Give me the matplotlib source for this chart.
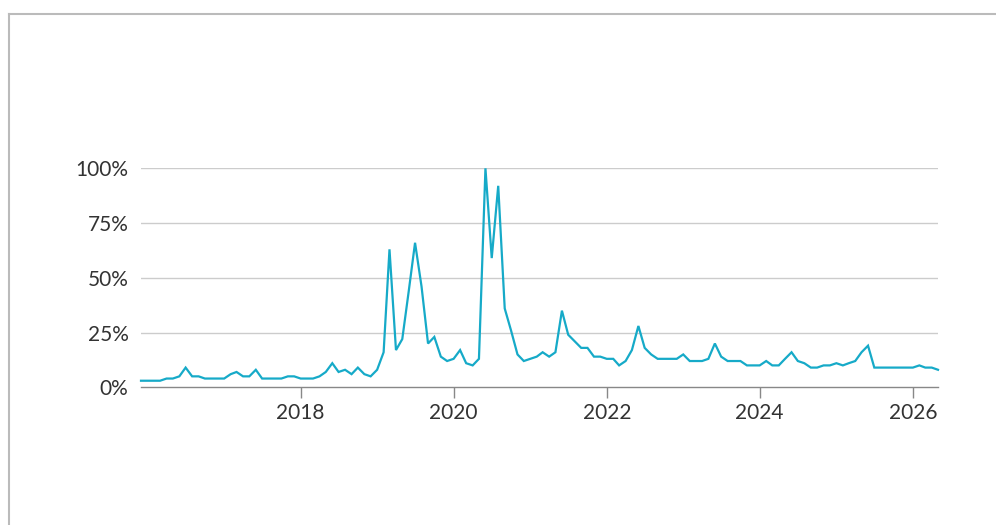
import matplotlib
matplotlib.use("Agg")
import matplotlib.pyplot as plt
from matplotlib.lines import Line2D
import pandas as pd

start_month = "2015-12-01"
values = [3, 3, 3, 3, 4, 4, 5, 9, 5, 5, 4, 4, 4, 4, 6, 7, 5, 5, 8, 4,
          4, 4, 4, 5, 5, 4, 4, 4, 5, 7, 11, 7, 8, 6, 9, 6, 5, 8, 16, 63,
          17, 22, 44, 66, 46, 20, 23, 14, 12, 13, 17, 11, 10, 13, 100, 59, 92, 36, 26, 15,
          12, 13, 14, 16, 14, 16, 35, 24, 21, 18, 18, 14, 14, 13, 13, 10, 12, 17, 28, 18,
          15, 13, 13, 13, 13, 15, 12, 12, 12, 13, 20, 14, 12, 12, 12, 10, 10, 10, 12, 10,
          10, 13, 16, 12, 11, 9, 9, 10, 10, 11, 10, 11, 12, 16, 19, 9, 9, 9, 9, 9,
          9, 9, 10, 9, 9, 8]
y_ticks = [0, 25, 50, 75, 100]
y_labels = ["0%", "25%", "50%", "75%", "100%"]
x_ticks = ["2018-01-01", "2020-01-01", "2022-01-01", "2024-01-01", "2026-01-01"]
x_labels = ["2018", "2020", "2022", "2024", "2026"]

dates = pd.date_range(start_month, periods=len(values), freq="MS")

plt.rcParams['font.family'] = ['Lato', 'DejaVu Sans']

fig = plt.figure(figsize=(9.96, 5.25), dpi=100)
ax = fig.add_axes([141/996, 1-387.3/525, (938-141)/996, (387.3-168.3)/525])

ax.plot(dates, values, color="#16aac8", lw=1.6, clip_on=False, zorder=3,
        solid_joinstyle="miter")

ax.set_ylim(0, 100)
ax.set_xlim(dates[0], dates[-1])
ax.set_yticks(y_ticks)
ax.set_yticklabels(y_labels)
ax.set_xticks(pd.to_datetime(x_ticks))
ax.set_xticklabels(x_labels)

for v in y_ticks[1:]:
    ax.axhline(v, color="#cccccc", lw=1.0, zorder=1)

for s in ["top", "right", "left"]:
    ax.spines[s].set_visible(False)
ax.spines["bottom"].set_color("#888888")
ax.spines["bottom"].set_linewidth(1.0)

ax.tick_params(axis="y", length=0, pad=9, labelsize=15, labelcolor="#333333")
ax.tick_params(axis="x", length=8, width=1, color="#888888", pad=3,
               labelsize=15, labelcolor="#333333")

# outer frame lines (top and left)
fig.add_artist(Line2D([9/996, 1], [1-14/525, 1-14/525], color="#bbbbbb", lw=1.5,
                      transform=fig.transFigure))
fig.add_artist(Line2D([9/996, 9/996], [0, 1-14/525], color="#bbbbbb", lw=1.5,
                      transform=fig.transFigure))

fig.savefig("out.png", dpi=100)
